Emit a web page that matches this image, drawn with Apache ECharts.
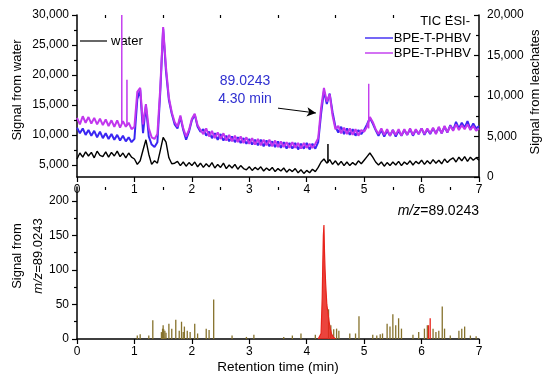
<!DOCTYPE html>
<html>
<head>
<meta charset="utf-8">
<script src="https://cdn.jsdelivr.net/npm/echarts@6/dist/echarts.min.js"></script>
<style>html,body{margin:0;padding:0;background:#fff}#c{width:550px;height:381px}</style>
</head>
<body>
<div id="c"></div>
<script>
// ---- data ----
const time = [0.00,0.05,0.10,0.15,0.20,0.25,0.30,0.35,0.40,0.45,0.50,0.55,0.60,0.65,0.70,0.75,0.80,0.85,0.90,0.95,
1.00,1.05,1.10,1.15,1.20,1.25,1.30,1.35,1.40,1.45,1.50,1.55,1.60,1.65,1.70,1.75,1.80,1.85,1.90,1.95,
2.00,2.05,2.10,2.15,2.20,2.25,2.30,2.35,2.40,2.45,2.50,2.55,2.60,2.65,2.70,2.75,2.80,2.85,2.90,2.95,
3.00,3.05,3.10,3.15,3.20,3.25,3.30,3.35,3.40,3.45,3.50,3.55,3.60,3.65,3.70,3.75,3.80,3.85,3.90,3.95,
4.00,4.05,4.10,4.15,4.20,4.25,4.30,4.35,4.40,4.45,4.50,4.55,4.60,4.65,4.70,4.75,4.80,4.85,4.90,4.95,
5.00,5.05,5.10,5.15,5.20,5.25,5.30,5.35,5.40,5.45,5.50,5.55,5.60,5.65,5.70,5.75,5.80,5.85,5.90,5.95,
6.00,6.05,6.10,6.15,6.20,6.25,6.30,6.35,6.40,6.45,6.50,6.55,6.60,6.65,6.70,6.75,6.80,6.85,6.90,6.95,7.00];

// water TIC (left axis)
const water = [6000,7000,6300,7200,6500,7100,6200,7300,6600,6400,7200,6300,7100,6500,7300,6400,7000,6200,7000,6300,
6000,5100,5700,7500,9200,6800,5100,5700,5300,7400,9600,8800,6200,5200,5300,5600,4900,5500,4800,5400,
4900,5500,4700,5300,4600,5200,4700,5400,4500,5100,4600,5300,4400,5000,4500,5100,4300,4900,4400,4200,
4700,4100,4600,4200,4700,4000,4500,4100,4600,3900,4400,4000,4500,3800,4300,3900,4400,3700,4200,3600,
4100,3700,4300,3900,4600,5500,6000,5300,5900,5100,5700,5000,5600,4900,5500,4900,5400,5000,5700,5200,
5800,6400,7000,6300,5500,5000,5500,4800,5400,4900,5500,5000,5600,4900,5500,5100,5700,5000,5600,5200,
5800,5100,5700,5200,5900,5300,5800,5200,6000,5400,5900,6200,5500,6300,5700,6400,5600,6300,5800,6200,5800];

// leachate 1 (blue, right axis)
const leachBlue = [6100,5400,6000,5200,5800,5100,5700,4900,5600,4800,5400,4700,5300,4600,5200,4500,5100,4400,4900,4300,
4700,9600,10800,5400,8800,5000,4000,3700,4300,10500,18300,13000,9500,7800,6500,6000,7400,5800,4600,5600,
7000,7700,6200,5600,5900,5100,5600,4800,5400,4600,5300,4500,5100,4400,5000,4300,4900,4200,4800,4100,
4700,4000,4600,3900,4600,3800,4500,3800,4400,3700,4400,3600,4300,3500,4200,3500,4200,3400,4100,3500,
4200,3400,4100,3500,4300,7800,10600,9000,10300,8000,6200,5500,6200,5300,6000,5200,5900,5100,5800,5300,
5800,6500,7300,6600,5800,5100,5800,5000,5700,5100,5800,5000,5700,5100,5800,5200,5900,5100,5800,5300,
6000,5200,5900,5300,6000,5400,6100,5400,6200,5500,6400,5800,6800,6000,6700,6100,6900,5900,6600,6000,6300];

// leachate 2 (magenta, right axis)
const leachMagenta = [7300,6500,7500,6700,7400,6600,7300,6500,7200,6400,7100,6300,7000,6200,7000,6100,6900,6200,6700,5900,
6200,10500,11000,6500,9000,6000,4900,4700,5300,11000,18500,13500,9800,8000,6800,6200,7600,6000,5000,5800,
7200,7800,6400,5800,5300,6000,5000,5700,4800,5500,4700,5400,4500,5200,4400,5100,4300,5000,4200,4900,
4100,4800,4000,4700,3900,4600,3900,4600,3800,4500,3700,4400,3700,4300,3600,4300,3600,4200,3500,4200,
3600,4100,3600,4100,4800,8500,11000,9300,10200,7600,5900,6300,5400,6100,5300,6000,5200,5900,5100,5800,
5600,6200,7400,6800,5900,5300,6000,5200,5900,5100,5800,5200,5900,5100,5900,5200,6000,5200,5900,5300,
6000,5300,6000,5400,6100,5300,6200,5400,6300,5500,6300,5700,6500,5800,6400,5900,6500,5800,6300,5700,6000];

// narrow single-scan spikes on top of the TIC traces
const magentaSpikeTimes = [0.78, 0.87, 5.08];
const magentaSpikePeaks = [20000, 12000, 11500];
const magentaSpikeBases = [6700, 6300, 6000];
const waterSpikeTimes = [4.37];
const waterSpikePeaks = [8500];
const waterSpikeBases = [5400];

// extracted ion chromatogram m/z = 89.0243 (bottom panel)
const eicRedTimes  = [4.20,4.23,4.25,4.27,4.28,4.29,4.30,4.31,4.32,4.33,4.34,4.35,4.37,4.39,4.41,4.43,4.46,4.50];
const eicRedValues = [0,2,8,60,110,150,165,125,100,80,65,50,38,25,15,8,3,0];
const eicSpikeTimes = [1.05,1.10,1.25,1.32,1.47,1.49,1.50,1.51,1.53,1.55,1.60,1.65,1.72,1.78,1.82,1.85,1.87,1.92,1.97,2.05,2.10,2.25,2.30,2.38,2.70,2.95,3.08,
3.60,3.75,3.90,4.15,4.38,4.42,4.47,4.52,4.56,4.75,4.85,4.91,5.15,5.22,5.28,5.32,5.40,5.45,5.50,5.55,5.60,5.65,5.85,5.95,6.05,6.10,6.20,6.25,6.30,6.36,6.40,6.50,6.65,6.70,6.75,6.85,6.95];
const eicSpikeValues = [5,7,5,27,10,15,20,14,12,9,22,15,28,12,25,10,18,12,10,22,8,15,13,57,5,3,6,
3,5,8,6,43,20,14,15,12,8,8,33,6,5,7,8,22,18,36,20,30,15,6,10,15,20,15,10,12,47,15,5,12,15,18,5,4];
const eicRedSpikeTimes = [6.12, 6.15];
const eicRedSpikeValues = [20, 30];

const xTicks = [0,1,2,3,4,5,6,7];
const xMinor = [0.5,1.5,2.5,3.5,4.5,5.5,6.5];
const leftTicks = [5000,10000,15000,20000,25000,30000];
const leftMinor = [7500,12500,17500,22500,27500];
const eicTicks = [0,50,100,150,200];
const eicMinor = [25,75,125,175];

// ---- chart ----
const FONT = 'Liberation Sans, Arial, sans-serif';
const C_BLUE = '#3a26f2', C_MAG = '#c136ee', C_RED = '#e8231b', C_OLIVE = '#86722c';
const pairs = (ts, vs) => ts.map((t, i) => [t, vs[i]]);
const spikeSeries = (ts, ps, bs, color, yIdx, name) => ts.map((t, i) => ({
  type: 'line', name, xAxisIndex: 0, yAxisIndex: yIdx, showSymbol: false, symbol: 'none',
  lineStyle: { color, width: 1 }, z: 4, animation: false,
  data: [[t - 0.004, bs[i]], [t, ps[i]], [t + 0.004, bs[i]]]
}));

const axLabel = { color: '#000', fontSize: 12, fontFamily: FONT };
const axLine = { show: true, onZero: false, lineStyle: { color: '#000', width: 1.5 } };
const fmt = v => Number(v).toLocaleString('en-US');

const option = {
  animation: false,
  backgroundColor: '#fff',
  grid: [
    { left: 77, right: 71, top: 15, height: 162 },
    { left: 77, right: 71, top: 187, height: 152 }
  ],
  xAxis: [
    { gridIndex: 0, type: 'value', min: 0, max: 7, interval: 1, axisLine: axLine,
      axisTick: { show: true, length: 5, lineStyle: { color: '#000', width: 1.2 } },
      axisLabel: Object.assign({ margin: 7 }, axLabel), splitLine: { show: false } },
    { gridIndex: 0, type: 'value', min: 0, max: 7, axisLine: { show: false, onZero: false },
      axisTick: { show: true, inside: true, length: 3, customValues: xMinor, lineStyle: { color: '#000', width: 1.2 } },
      axisLabel: { show: false }, splitLine: { show: false } },
    { gridIndex: 1, type: 'value', min: 0, max: 7, interval: 1, axisLine: axLine,
      axisTick: { show: true, length: 5, lineStyle: { color: '#000', width: 1.2 } },
      axisLabel: Object.assign({ margin: 7 }, axLabel), splitLine: { show: false } },
    { gridIndex: 1, type: 'value', min: 0, max: 7, axisLine: { show: false, onZero: false },
      axisTick: { show: true, inside: true, length: 3, customValues: xMinor, lineStyle: { color: '#000', width: 1.2 } },
      axisLabel: { show: false }, splitLine: { show: false } }
  ],
  yAxis: [
    { gridIndex: 0, type: 'value', position: 'left', min: 3000, max: 30000, axisLine: axLine,
      axisTick: { show: true, length: 5, customValues: leftTicks, lineStyle: { color: '#000', width: 1.2 } },
      axisLabel: Object.assign({ margin: 8, customValues: leftTicks, formatter: fmt }, axLabel),
      splitLine: { show: false } },
    { gridIndex: 0, type: 'value', position: 'left', min: 3000, max: 30000, axisLine: { show: false, onZero: false },
      axisTick: { show: true, length: 3, customValues: leftMinor, lineStyle: { color: '#000', width: 1.2 } },
      axisLabel: { show: false }, splitLine: { show: false } },
    { gridIndex: 0, type: 'value', position: 'right', min: 0, max: 20000, interval: 5000, axisLine: axLine,
      axisTick: { show: true, inside: true, length: 5, lineStyle: { color: '#000', width: 1.2 } },
      minorTick: { show: true, splitNumber: 2, length: 3, lineStyle: { color: '#000', width: 1.2 } },
      axisLabel: Object.assign({ margin: 8, formatter: fmt }, axLabel), splitLine: { show: false } },
    { gridIndex: 1, type: 'value', position: 'left', min: 0, max: 220, axisLine: axLine,
      axisTick: { show: true, length: 5, customValues: eicTicks, lineStyle: { color: '#000', width: 1.2 } },
      axisLabel: Object.assign({ margin: 8, customValues: eicTicks }, axLabel), splitLine: { show: false } },
    { gridIndex: 1, type: 'value', position: 'left', min: 0, max: 220, axisLine: { show: false, onZero: false },
      axisTick: { show: true, length: 3, customValues: eicMinor, lineStyle: { color: '#000', width: 1.2 } },
      axisLabel: { show: false }, splitLine: { show: false } }
  ],
  series: [
    { type: 'line', name: 'water', xAxisIndex: 0, yAxisIndex: 0, symbol: 'none', z: 3,
      lineStyle: { color: '#000', width: 1.4 }, data: pairs(time, water) },
    { type: 'line', name: 'BPE-T-PHBV 1', xAxisIndex: 0, yAxisIndex: 2, symbol: 'none', z: 3,
      lineStyle: { color: C_BLUE, width: 2 }, data: pairs(time, leachBlue) },
    { type: 'line', name: 'BPE-T-PHBV 2', xAxisIndex: 0, yAxisIndex: 2, symbol: 'none', z: 3,
      lineStyle: { color: C_MAG, width: 2 }, data: pairs(time, leachMagenta),
      markLine: { silent: true, symbol: ['none', 'arrow'], symbolSize: [7, 9], label: { show: false },
        lineStyle: { color: '#000', width: 1, type: 'solid' },
        data: [[{ coord: [3.50, 8500] }, { coord: [4.16, 7900] }]] } },
    ...spikeSeries(magentaSpikeTimes, magentaSpikePeaks, magentaSpikeBases, C_MAG, 2, 'mspike'),
    ...spikeSeries(waterSpikeTimes, waterSpikePeaks, waterSpikeBases, '#000', 0, 'wspike'),
    { type: 'bar', name: 'eic', xAxisIndex: 2, yAxisIndex: 3, barWidth: 1.3, z: 2,
      itemStyle: { color: C_OLIVE }, data: pairs(eicSpikeTimes, eicSpikeValues) },
    { type: 'bar', name: 'eicRedSpikes', xAxisIndex: 2, yAxisIndex: 3, barWidth: 1.3, barGap: '-100%', z: 2,
      itemStyle: { color: C_RED }, data: pairs(eicRedSpikeTimes, eicRedSpikeValues) },
    { type: 'line', name: 'eicRed', xAxisIndex: 2, yAxisIndex: 3, symbol: 'none', z: 3,
      lineStyle: { color: C_RED, width: 1.2 }, areaStyle: { color: C_RED, opacity: 0.85 },
      data: pairs(eicRedTimes, eicRedValues) }
  ],
  graphic: [
    { type: 'text', x: 17, y: 90, rotation: Math.PI / 2,
      style: { text: 'Signal from water', fontSize: 13, fontFamily: FONT, fill: '#000', align: 'center', verticalAlign: 'middle' } },
    { type: 'text', x: 535, y: 92, rotation: Math.PI / 2,
      style: { text: 'Signal from leachates', fontSize: 13, fontFamily: FONT, fill: '#000', align: 'center', verticalAlign: 'middle' } },
    { type: 'text', x: 17, y: 256, rotation: Math.PI / 2,
      style: { text: 'Signal from', fontSize: 13, fontFamily: FONT, fill: '#000', align: 'center', verticalAlign: 'middle' } },
    { type: 'text', x: 38, y: 256, rotation: Math.PI / 2,
      style: { text: '{i|m/z}=89.0243', fontSize: 13, fontFamily: FONT, fill: '#000', align: 'center', verticalAlign: 'middle',
        rich: { i: { fontStyle: 'italic', fontSize: 13, fontFamily: FONT, fill: '#000' } } } },
    { type: 'text', x: 278, y: 367,
      style: { text: 'Retention time (min)', fontSize: 13.5, fontFamily: FONT, fill: '#000', align: 'center', verticalAlign: 'middle' } },
    { type: 'text', x: 479, y: 211,
      style: { text: '{i|m/z}=89.0243', fontSize: 14, fontFamily: FONT, fill: '#000', align: 'right', verticalAlign: 'middle',
        rich: { i: { fontStyle: 'italic', fontSize: 14, fontFamily: FONT, fill: '#000' } } } },
    { type: 'text', x: 245, y: 81,
      style: { text: '89.0243', fontSize: 14, fontFamily: FONT, fill: '#2f2fd0', align: 'center', verticalAlign: 'middle' } },
    { type: 'text', x: 245, y: 99,
      style: { text: '4.30 min', fontSize: 14, fontFamily: FONT, fill: '#2f2fd0', align: 'center', verticalAlign: 'middle' } },
    // legend
    { type: 'text', x: 470, y: 21,
      style: { text: 'TIC ESI-', fontSize: 13, fontFamily: FONT, fill: '#000', align: 'right', verticalAlign: 'middle' } },
    { type: 'line', shape: { x1: 365, y1: 38, x2: 393, y2: 38 }, style: { stroke: C_BLUE, lineWidth: 1.4 } },
    { type: 'text', x: 471, y: 38,
      style: { text: 'BPE-T-PHBV', fontSize: 13, fontFamily: FONT, fill: '#000', align: 'right', verticalAlign: 'middle' } },
    { type: 'line', shape: { x1: 365, y1: 53, x2: 393, y2: 53 }, style: { stroke: C_MAG, lineWidth: 1.4 } },
    { type: 'text', x: 471, y: 53,
      style: { text: 'BPE-T-PHBV', fontSize: 13, fontFamily: FONT, fill: '#000', align: 'right', verticalAlign: 'middle' } },
    { type: 'line', shape: { x1: 80, y1: 41, x2: 107, y2: 41 }, style: { stroke: '#000', lineWidth: 1.2 } },
    { type: 'text', x: 111, y: 41,
      style: { text: 'water', fontSize: 13, fontFamily: FONT, fill: '#000', align: 'left', verticalAlign: 'middle' } }
  ]
};
const chart = echarts.init(document.getElementById('c'), null, { renderer: 'canvas' });
chart.setOption(option);
</script>
</body>
</html>
